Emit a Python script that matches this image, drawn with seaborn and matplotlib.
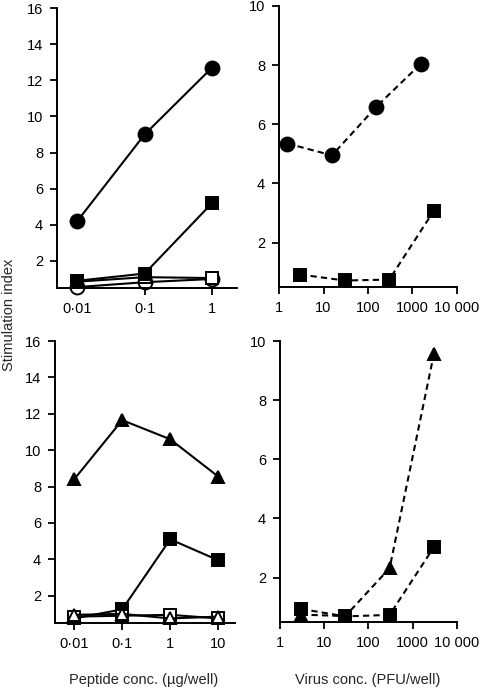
import numpy as np
import matplotlib
matplotlib.use("Agg")
import matplotlib.pyplot as plt
import seaborn as sns

sns.set_style("ticks")
plt.rcParams['font.family'] = ['Liberation Sans', 'DejaVu Sans']

# top-left: peptide conc., four series
pep_x_a = [0.01, 0.1, 1]
pep_a_filled_circle = [4.2, 9.0, 12.7]
pep_a_filled_square = [0.9, 1.3, 5.2]
pep_a_open_square = [0.85, 1.1, 1.05]
pep_a_open_circle = [0.55, 0.82, 1.0]
pep_ticklabels_a = ['0·01', '0·1', '1']

# top-right: virus conc.
vir_circle_x = [1.55, 15.5, 155, 1550]
vir_circle_y = [5.35, 4.95, 6.6, 8.05]
vir_square_x_a = [3, 30, 300, 3000]
vir_square_y_a = [0.92, 0.72, 0.75, 3.07]

# bottom-left: peptide conc.
pep_x_b = [0.01, 0.1, 1, 10]
pep_b_filled_triangle = [8.4, 11.65, 10.6, 8.55]
pep_b_filled_square = [0.75, 1.25, 5.1, 3.95]
pep_b_open_square = [0.85, 0.9, 0.95, 0.75]
pep_b_open_triangle = [0.95, 1.0, 0.75, 0.85]
pep_ticklabels_b = ['0·01', '0·1', '1', '10']

# bottom-right: virus conc.
vir_x_b = [3, 30, 300, 3000]
vir_triangle_y = [0.75, 0.7, 2.32, 9.56]
vir_square_y_b = [0.94, 0.69, 0.74, 3.03]

vir_ticks = [1, 10, 100, 1000, 10000]
vir_ticklabels = ['1', '10', '100', '1000', '10 000']

fig = plt.figure(figsize=(4.89, 6.95), dpi=100)
W, H = 489, 695
FS = 10.5


def add_ax(x0, y0, x1, y1):
    return fig.add_axes([x0 / W, 1 - y1 / H, (x1 - x0) / W, (y1 - y0) / H])


ax_tl = add_ax(57, 8, 237, 288)
ax_tr = add_ax(279, 6, 457, 287)
ax_bl = add_ax(55, 341, 235, 623)
ax_br = add_ax(280, 341, 457, 622)


def series(ax, x, y, marker, filled, ls='-', ms=10):
    sns.lineplot(x=x, y=y, ax=ax, color='black', linestyle=ls, linewidth=1.5,
                 marker=marker, markersize=ms,
                 markerfacecolor='black' if filled else 'white',
                 markeredgecolor='black', markeredgewidth=1.4)


# top-left
series(ax_tl, pep_x_a, pep_a_open_circle, 'o', False)
series(ax_tl, pep_x_a, pep_a_open_square, 's', False, ms=9)
series(ax_tl, pep_x_a, pep_a_filled_square, 's', True, ms=9)
series(ax_tl, pep_x_a, pep_a_filled_circle, 'o', True)

# top-right
series(ax_tr, vir_circle_x, vir_circle_y, 'o', True, ls=(0, (3, 2)))
series(ax_tr, vir_square_x_a, vir_square_y_a, 's', True, ls=(0, (3, 2)), ms=9)

# bottom-left
series(ax_bl, pep_x_b, pep_b_filled_square, 's', True, ms=9)
series(ax_bl, pep_x_b, pep_b_open_square, 's', False, ms=9)
series(ax_bl, pep_x_b, pep_b_open_triangle, '^', False, ms=8.5)
series(ax_bl, pep_x_b, pep_b_filled_triangle, '^', True, ms=8.5)

# bottom-right
series(ax_br, vir_x_b, vir_triangle_y, '^', True, ls=(0, (3, 2)), ms=8.5)
series(ax_br, vir_x_b, vir_square_y_b, 's', True, ls=(0, (3, 2)), ms=9)

for ax in (ax_tl, ax_tr, ax_bl, ax_br):
    ax.set_xscale('log')
    ax.minorticks_off()
    sns.despine(ax=ax)
    for s in ('left', 'bottom'):
        ax.spines[s].set_linewidth(1.4)
        ax.spines[s].set_color('black')
    ax.tick_params(axis='both', which='major', length=5, width=1.3,
                   labelsize=FS, colors='black', pad=5)
    ax.set_xlabel('')
    ax.set_ylabel('')
    ax.set_facecolor('none')
    for ln in ax.get_lines():
        ln.set_clip_on(False)

ax_tl.set_xlim(10 ** -2.3, 10 ** 0.37)
ax_tl.set_xticks(pep_x_a)
ax_tl.set_xticklabels(pep_ticklabels_a)
ax_bl.set_xlim(10 ** -2.4, 10 ** 1.35)
ax_bl.set_xticks(pep_x_b)
ax_bl.set_xticklabels(pep_ticklabels_b)
for ax in (ax_tl, ax_bl):
    ax.set_ylim(0.5, 16)
    ax.set_yticks(np.arange(2, 17, 2))

for ax in (ax_tr, ax_br):
    ax.set_xlim(1, 10000)
    ax.set_xticks(vir_ticks)
    ax.set_xticklabels(vir_ticklabels)
    ax.set_ylim(0.5, 10)
    ax.set_yticks(np.arange(2, 11, 2))

fig.text(9 / W, 1 - 315 / H, 'Stimulation index', rotation=90,
         ha='center', va='center', fontsize=FS)
fig.text(144 / W, 1 - 680 / H, 'Peptide conc. (µg/well)',
         ha='center', va='center', fontsize=FS)
fig.text(368 / W, 1 - 680 / H, 'Virus conc. (PFU/well)',
         ha='center', va='center', fontsize=FS)

fig.savefig('out.png', dpi=100)
